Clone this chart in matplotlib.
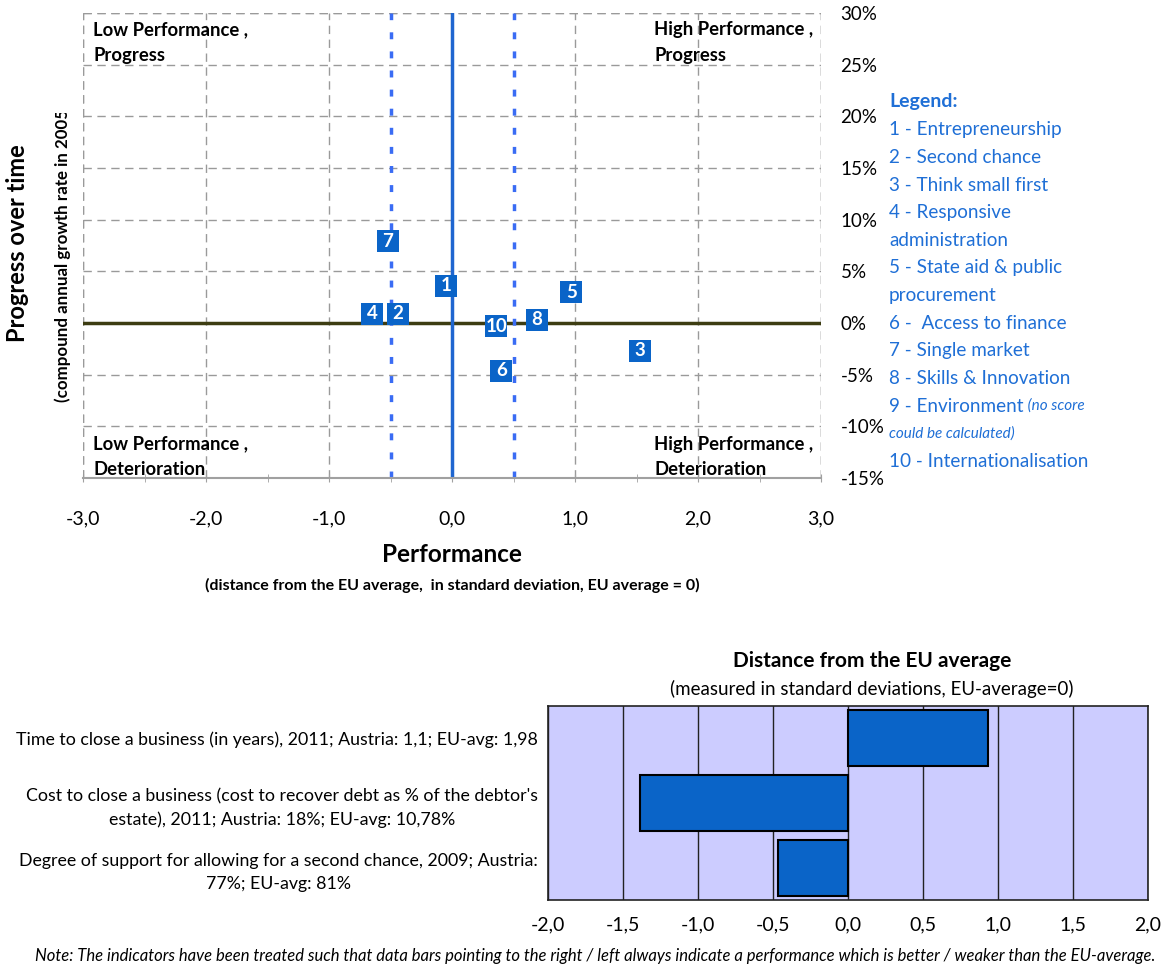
import matplotlib
matplotlib.use("Agg")
import matplotlib.pyplot as plt
from matplotlib.ticker import FuncFormatter, MultipleLocator
from matplotlib.transforms import Bbox, TransformedBbox

plt.rcParams['font.family'] = ['Lato', 'DejaVu Sans']

# performance (std dev from EU average) vs. progress over time (%)
principles = ["1", "2", "3", "4", "5", "6", "7", "8", "10"]
performance = [-0.05, -0.44, 1.53, -0.65, 0.97, 0.40, -0.52, 0.69, 0.36]
progress = [3.6, 0.9, -2.7, 0.9, 3.0, -4.6, 7.9, 0.3, -0.3]

legend_items = ["1 - Entrepreneurship", "2 - Second chance", "3 - Think small first",
                "4 - Responsive", "administration", "5 - State aid & public",
                "procurement", "6 -  Access to finance", "7 - Single market",
                "8 - Skills & Innovation", "9 - Environment", "could be calculated)",
                "10 - Internationalisation"]

# indicator detail for principle 2
indicators = ["Time to close a business (in years), 2011; Austria: 1,1; EU-avg: 1,98",
              "Cost to close a business (cost to recover debt as % of the debtor's\nestate), 2011; Austria: 18%; EU-avg: 10,78%",
              "Degree of support for allowing for a second chance, 2009; Austria:\n77%; EU-avg: 81%"]
distance = [0.93, -1.39, -0.47]

blue = '#0a64c8'
text_blue = '#1f6fd6'
W, H = 1167, 966
fig = plt.figure(figsize=(W / 100, H / 100), dpi=100)

def fx(px):
    return px / W

def fy(py):
    return 1 - py / H

comma = lambda v, pos: f"{v:.1f}".replace(".", ",")

# ---- scatter of principles ----
ax = fig.add_axes([fx(83), fy(478), fx(821) - fx(83), fy(13) - fy(478)])
ax.set_xlim(-3, 3)
ax.set_ylim(-15, 30)
ax.xaxis.set_major_locator(MultipleLocator(1))
ax.xaxis.set_minor_locator(MultipleLocator(0.5))
ax.yaxis.set_major_locator(MultipleLocator(5))
ax.xaxis.set_major_formatter(FuncFormatter(comma))
ax.yaxis.set_major_formatter(FuncFormatter(lambda v, p: f"{v:.0f}%"))
ax.yaxis.tick_right()
ax.tick_params(axis='y', length=0, pad=14, labelsize=13.5)
ax.tick_params(axis='x', which='both', length=6, color='#a0a0a0', direction='inout', labelsize=14, pad=20)
for s in ['top', 'right', 'left']:
    ax.spines[s].set_visible(False)
ax.spines['bottom'].set_color('#a0a0a0')
ax.spines['bottom'].set_linewidth(1.5)
ax.grid(True, which='major', color='#9a9a9a', linestyle=(0, (6, 4)), linewidth=1)
ax.axvline(-3, color='#9a9a9a', linestyle=(0, (6, 4)), linewidth=1)
ax.axvline(3, color='#9a9a9a', linestyle=(0, (6, 4)), linewidth=1)
ax.axhline(30, color='#9a9a9a', linestyle=(0, (6, 4)), linewidth=1)
ax.set_axisbelow(True)

ax.axhline(0, color='#3d3d12', linewidth=2.5, zorder=2)
ax.axvline(0, color='#1f66d0', linewidth=2.5, zorder=2)
for xv in (-0.5, 0.5):
    ax.axvline(xv, color='#3a6cf4', linewidth=2.5, linestyle=(0, (2, 3.5)), zorder=2)

ax.scatter(performance, progress, marker='s', s=16 ** 2, color=blue, zorder=3, linewidths=0)
for lab, xv, yv in zip(principles, performance, progress):
    ax.text(xv, yv, lab, color='white', fontsize=13.5, fontweight='bold',
            ha='center', va='center', zorder=4)

quad = dict(fontsize=13.3, fontweight='bold', linespacing=1.62, va='top')
ax.text(0.014, 0.983, "Low Performance ,\nProgress", transform=ax.transAxes, ha='left', **quad)
ax.text(0.774, 0.983, "High Performance ,\nProgress", transform=ax.transAxes, ha='left', **quad)
ax.text(0.014, 0.091, "Low Performance ,\nDeterioration", transform=ax.transAxes, ha='left', **quad)
ax.text(0.774, 0.091, "High Performance ,\nDeterioration", transform=ax.transAxes, ha='left', **quad)

fig.text(fx(18), fy(243), "Progress over time", rotation=90, fontsize=17,
         fontweight='bold', ha='center', va='center')
sub = fig.text(fx(63), fy(402), "(compound annual growth rate in 2005-2011)", rotation=90,
               fontsize=12.2, fontweight='bold', ha='left', va='center', rotation_mode='anchor')
sub.set_clip_box(TransformedBbox(Bbox([[0, 0], [1, fy(113)]]), fig.transFigure))
sub.set_clip_on(True)

fig.text(fx(452), fy(554), "Performance", fontsize=17.5, fontweight='bold', ha='center', va='center')
fig.text(fx(452), fy(585), "(distance from the EU average,  in standard deviation, EU average = 0)",
         fontsize=11.5, fontweight='bold', ha='center', va='center')

# legend block
fig.text(fx(889), fy(102), "Legend:", color=text_blue, fontsize=14, fontweight='bold', va='center')
for i, item in enumerate(legend_items):
    y = 130 + i * 27.6
    if item.startswith("could"):
        fig.text(fx(889), fy(y), item, color=text_blue, fontsize=11, style='italic', va='center')
        continue
    t = fig.text(fx(889), fy(y), item, color=text_blue, fontsize=13.6, va='center')
    if item.startswith("9"):
        ax.annotate(" (no score", xy=(1, 0.5), xycoords=t, color=text_blue,
                    fontsize=11, style='italic', va='center', annotation_clip=False)

# ---- bar chart of indicators ----
bx = fig.add_axes([fx(548), fy(900), fx(1148) - fx(548), fy(706) - fy(900)])
ypos = list(range(len(indicators)))
bx.barh(ypos, distance, height=0.87, color=blue, edgecolor='black', linewidth=1.5, zorder=3)
bx.set_facecolor('#ccccff')
bx.set_xlim(-2, 2)
bx.set_ylim(len(indicators) - 0.5, -0.5)
bx.xaxis.set_major_locator(MultipleLocator(0.5))
bx.xaxis.set_major_formatter(FuncFormatter(comma))
bx.grid(True, axis='x', color='#222222', linewidth=1)
bx.set_axisbelow(True)
bx.set_yticks(ypos)
bx.set_yticklabels(indicators, multialignment='center', fontsize=12.8, linespacing=1.5)
bx.tick_params(axis='y', length=0, pad=7)
bx.tick_params(axis='x', length=0, labelsize=14, pad=12)
for s in bx.spines.values():
    s.set_color('#222222')
    s.set_linewidth(1.2)

fig.text(fx(872), fy(661), "Distance from the EU average", fontsize=15, fontweight='bold',
         ha='center', va='center')
fig.text(fx(872), fy(689), "(measured in standard deviations, EU-average=0)", fontsize=13.5,
         ha='center', va='center')
fig.text(fx(595), fy(956), "Note: The indicators have been treated such that data bars pointing to the right / left always "
         "indicate a performance which is better / weaker than the EU-average.",
         fontsize=12, style='italic', ha='center', va='center')

fig.savefig("out.png", dpi=100)
